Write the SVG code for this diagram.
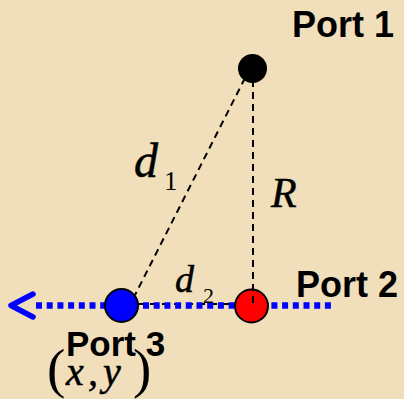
<svg xmlns="http://www.w3.org/2000/svg" width="404" height="399" viewBox="0 0 404 399">
<style>
.port{font-family:"Liberation Sans",Arial,sans-serif;font-weight:bold;fill:#000}
.math{font-family:"Liberation Serif","Times New Roman",serif;font-style:italic;fill:#000;stroke:#000;stroke-width:0.5}
.sub{font-family:"Liberation Serif","Times New Roman",serif;fill:#000}
.dash{stroke:#000;stroke-width:2;stroke-dasharray:7 5;fill:none}
.blue{stroke:#0000ff;stroke-width:6.5;stroke-dasharray:6 4.7;fill:none}
</style>
<rect x="0" y="0" width="404" height="399" fill="#f0dfba"/>
<g id="connectors">
<line class="dash" x1="245" y1="78" x2="135" y2="295"/>
<line class="dash" x1="138" y1="304" x2="236" y2="304"/>
<line class="blue" x1="36" y1="305.5" x2="332" y2="305.5"/>
<polyline points="33,294 11,305.5 33,317" fill="none" stroke="#0000ff" stroke-width="5.5" stroke-linecap="round" stroke-linejoin="round"/>
</g>
<g id="port1">
<circle cx="252.5" cy="68.5" r="14.5" fill="#000"/>
<text class="port" x="292" y="37" font-size="36">Port 1</text>
</g>
<g id="port3">
<circle cx="121.5" cy="305.5" r="16.5" fill="#0000ff" stroke="#000" stroke-width="2"/>
<text class="sub" x="47" y="387" font-size="55">(</text>
<text class="sub" x="133" y="387" font-size="55">)</text>
<text class="math" x="66" y="385" font-size="40">x</text>
<text class="math" x="88" y="385" font-size="40">,</text>
<text class="math" x="103" y="385" font-size="40">y</text>
<text class="port" x="66" y="356" font-size="35">Port 3</text>
</g>
<g id="port2">
<circle cx="251.5" cy="306" r="16.5" fill="#ff0000" stroke="#000" stroke-width="2"/>
<line class="dash" x1="253" y1="80" x2="253" y2="306"/>
<text class="port" x="296" y="297" font-size="36">Port 2</text>
</g>
<g id="labels">
<text class="math" x="134" y="177" font-size="48">d</text>
<text class="sub" x="164" y="190" font-size="27">1</text>
<text class="math" x="271" y="207" font-size="42">R</text>
<text class="math" x="175" y="292" font-size="38">d</text>
<text class="sub" x="203" y="303" font-size="22">2</text>
</g>
</svg>
